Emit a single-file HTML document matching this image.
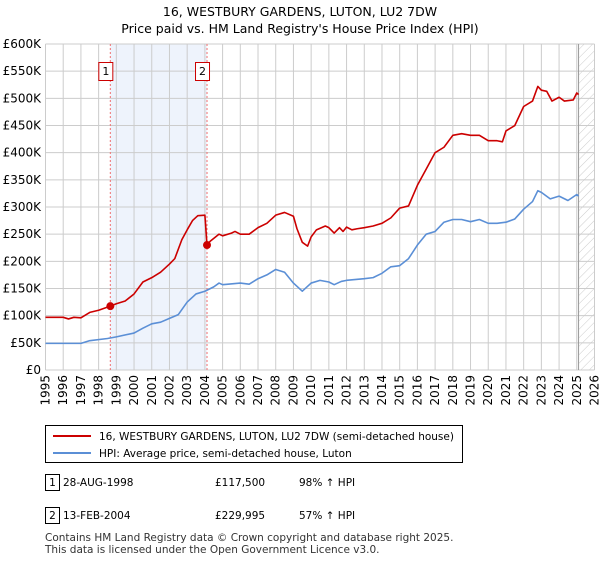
<!DOCTYPE html>
<html><head><meta charset="utf-8"><style>
body{margin:0;background:#fff;font-family:"DejaVu Sans","Liberation Sans",sans-serif;}
svg text{font-family:"DejaVu Sans","Liberation Sans",sans-serif;}
</style></head><body>
<svg id="c" width="600" height="560" xmlns="http://www.w3.org/2000/svg">
<defs><pattern id="hatch" width="6" height="6" patternUnits="userSpaceOnUse" patternTransform="rotate(45)"><line x1="0" y1="0" x2="0" y2="6" stroke="#ccc" stroke-width="1"/></pattern></defs>
<text x="300" y="16" text-anchor="middle" font-size="12.5">16, WESTBURY GARDENS, LUTON, LU2 7DW</text>
<text x="300" y="33" text-anchor="middle" font-size="12.5">Price paid vs. HM Land Registry's House Price Index (HPI)</text>
<g id="plot"></g>
<g>
<rect x="45.5" y="425.5" width="417" height="37" fill="#fff" stroke="#000"/>
<line x1="53" y1="436" x2="91" y2="436" stroke="#cc0000" stroke-width="2"/>
<text x="99" y="440" font-size="10.5">16, WESTBURY GARDENS, LUTON, LU2 7DW (semi-detached house)</text>
<line x1="53" y1="453" x2="91" y2="453" stroke="#5b8fd6" stroke-width="2"/>
<text x="99" y="457" font-size="10.5">HPI: Average price, semi-detached house, Luton</text>
</g>
<g font-size="10.5">
<rect x="45.5" y="474.5" width="14" height="16" fill="#fff" stroke="#000"/><text x="52.5" y="486" text-anchor="middle">1</text>
<text x="63" y="486">28-AUG-1998</text><text x="215" y="486">£117,500</text><text x="299" y="486">98% ↑ HPI</text>
<rect x="45.5" y="507.5" width="14" height="16" fill="#fff" stroke="#000"/><text x="52.5" y="519" text-anchor="middle">2</text>
<text x="63" y="519">13-FEB-2004</text><text x="215" y="519">£229,995</text><text x="299" y="519">57% ↑ HPI</text>
</g>
<text x="45" y="541" font-size="10.5" fill="#333">Contains HM Land Registry data © Crown copyright and database right 2025.</text>
<text x="45" y="553" font-size="10.5" fill="#333">This data is licensed under the Open Government Licence v3.0.</text>
</svg>
<script>
const yTicks=[0,50,100,150,200,250,300,350,400,450,500,550,600];
const yLabels=["£0","£50K","£100K","£150K","£200K","£250K","£300K","£350K","£400K","£450K","£500K","£550K","£600K"];
const xYears=[1995,1996,1997,1998,1999,2000,2001,2002,2003,2004,2005,2006,2007,2008,2009,2010,2011,2012,2013,2014,2015,2016,2017,2018,2019,2020,2021,2022,2023,2024,2025,2026];
const priceT=[1995,1996,1996.3,1996.6,1997,1997.5,1998,1998.66,1999,1999.5,2000,2000.5,2001,2001.5,2002,2002.3,2002.7,2003,2003.3,2003.6,2004.0,2004.12,2004.3,2004.8,2005,2005.5,2005.7,2006,2006.5,2007,2007.5,2008,2008.5,2009,2009.2,2009.5,2009.8,2010,2010.3,2010.8,2011,2011.3,2011.6,2011.8,2012,2012.3,2012.6,2013,2013.5,2014,2014.5,2015,2015.5,2016,2016.5,2017,2017.5,2018,2018.5,2019,2019.5,2020,2020.5,2020.8,2021,2021.5,2022,2022.5,2022.8,2023,2023.3,2023.6,2024,2024.3,2024.8,2025,2025.1];
const priceV=[97,97,94,97,96,106,110,117.5,122,127,140,162,170,180,195,205,240,258,275,284,285,230,237,250,247,252,255,250,250,262,270,285,290,283,260,235,228,245,258,265,262,252,262,255,263,258,260,262,265,270,280,298,302,340,370,400,410,432,435,432,432,422,422,420,440,450,485,495,522,515,513,495,502,495,497,510,507];
const hpiT=[1995,1997,1997.5,1998.5,1999,2000,2000.5,2001,2001.5,2002,2002.5,2003,2003.5,2004,2004.5,2004.8,2005,2006,2006.5,2007,2007.5,2008,2008.5,2009,2009.5,2010,2010.5,2011,2011.3,2011.7,2012,2013,2013.5,2014,2014.5,2015,2015.5,2016,2016.5,2017,2017.5,2018,2018.5,2019,2019.5,2020,2020.5,2021,2021.5,2022,2022.5,2022.8,2023,2023.5,2024,2024.5,2025,2025.1];
const hpiV=[49,49,54,58,61,68,77,85,88,95,102,125,140,145,153,160,157,160,158,168,175,185,180,160,145,160,165,162,157,163,165,168,170,178,190,192,205,230,250,255,272,277,277,273,277,270,270,272,278,296,310,330,327,315,320,312,323,320];
const sales=[{t:1998.66,v:117.5,n:"1"},{t:2004.12,v:229.995,n:"2"}];
const X=t=>45.5+(t-1995)*(549/31);
const Y=v=>370-v*0.5433;
const NS="http://www.w3.org/2000/svg";
const g=document.getElementById('plot');
function mk(tag,attrs,parent){const e=document.createElementNS(NS,tag);for(const k in attrs)e.setAttribute(k,attrs[k]);(parent||g).appendChild(e);return e;}
let r=mk('rect',{x:X(sales[0].t),y:Y(600),width:X(sales[1].t)-X(sales[0].t),height:Y(0)-Y(600),fill:'#eef3fc'});


let h=mk('rect',{x:X(2025.1),y:Y(600),width:X(2026)-X(2025.1),height:Y(0)-Y(600),fill:'url(#hatch)'});


yTicks.forEach((v,i)=>{
 mk('line',{x1:X(1995),x2:X(2026),y1:Y(v),y2:Y(v),stroke:'#ccc','stroke-width':1});
 let t=mk('text',{x:41,y:Y(v)+4,'text-anchor':'end','font-size':12});t.textContent=yLabels[i];
 
 
});
xYears.forEach(y=>{
 mk('line',{x1:X(y),x2:X(y),y1:Y(600),y2:Y(0),stroke:'#ccc','stroke-width':1});
 let t=mk('text',{x:0,y:0,'text-anchor':'end','font-size':12,transform:`translate(${X(y)+4},375) rotate(-90)`});t.textContent=y;
 
 
});
mk('line',{x1:X(2025.1),x2:X(2025.1),y1:Y(600),y2:Y(0),stroke:'#999','stroke-width':1});
sales.forEach(s=>{
 let l=mk('line',{x1:X(s.t),x2:X(s.t),y1:Y(600),y2:Y(0),stroke:'#f07070','stroke-width':1,'stroke-dasharray':'2,2'});
 
 
 let b=mk('rect',{x:X(s.t)-11.5,y:62.5,width:14,height:18,fill:'#fff',stroke:'#cc0000'});
 
 
 let t=mk('text',{x:X(s.t)-4.5,y:75,'text-anchor':'middle','font-size':11});t.textContent=s.n;
});
const line=(T,V,c,name)=>{let p=mk('polyline',{points:T.map((t,i)=>X(t)+','+Y(V[i])).join(' '),fill:'none',stroke:c,'stroke-width':1.6,'stroke-linejoin':'round'});
 
 };
line(hpiT,hpiV,'#5b8fd6','hpi-line');
line(priceT,priceV,'#cc0000','price-line');
sales.forEach(s=>{let c=mk('circle',{cx:X(s.t),cy:Y(s.v),r:4,fill:'#cc0000'});
 
 });
</script>
</body></html>
